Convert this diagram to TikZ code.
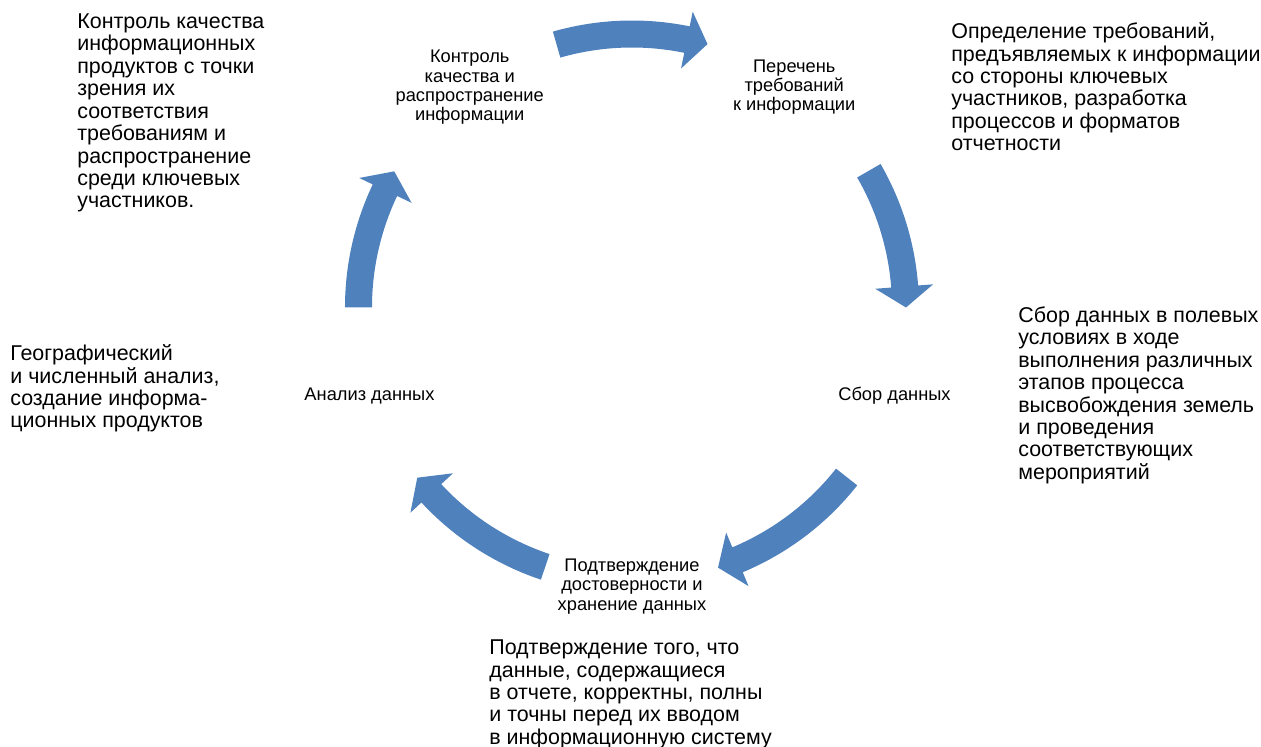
\documentclass[tikz,border=0pt]{standalone}
\usepackage{fontspec}
\setmainfont{Liberation Sans}
\definecolor{cycleblue}{HTML}{4F81BD}

% block arc arrow: start angle, tip angle (clockwise)
\newcommand{\cyclearrow}[2]{%
  \pgfmathsetmacro{\headang}{#2+4.4}
  \fill[cyclearr] (#1:287) arc[start angle=#1, end angle=\headang, radius=287]
    -- (\headang:302) -- (#2:274) -- (\headang:244) -- (\headang:260)
    arc[start angle=\headang, end angle=#1, radius=260] -- cycle;}

\begin{document}
\begin{tikzpicture}[x=0.02cm,y=0.02cm,
  stage/.style={align=center,inner sep=0pt,yshift=-1.7pt,font=\fontsize{10.4pt}{10.9pt}\selectfont},
  desc/.style={align=left,anchor=north west,inner sep=0pt,font=\fontsize{12.2pt}{12.75pt}\selectfont},
  cyclearr/.style={fill=cycleblue}]
\useasboundingbox (-632,-439.5) rectangle (629,307.5);
    % stages
    \node[stage] (ctrl) at (126:276) {Контроль\\качества и\\распространение\\информации};
    \node[stage] (req) at (54:276) {Перечень\\требований\\к информации};
    \node[stage] (collect) at (-18:276) {Сбор данных};
    \node[stage] (valid) at (-90:276) {Подтверждение\\достоверности и\\хранение данных};
    \node[stage] (analysis) at (198:276) {Анализ данных};
    % arrows
    \foreach \a/\b in {106/74, 30/0, -38.3/-71.7, -108.5/-141.6, 180/150.2}
        \cyclearrow{\a}{\b};
    % descriptions
    \node[desc] (ctrltxt) at (-555,294) {Контроль качества\\информационных\\продуктов с точки\\зрения их\\соответствия\\требованиям и\\распространение\\среди ключевых\\участников.};
    \node[desc] (reqtxt) at (319,285) {Определение требований,\\предъявляемых к информации\\со стороны ключевых\\участников, разработка\\процессов и форматов\\отчетности};
    \node[desc] (collecttxt) at (386,1) {Сбор данных в полевых\\условиях в ходе\\выполнения различных\\этапов процесса\\высвобождения земель\\и проведения\\соответствующих\\мероприятий};
    \node[desc] (analysistxt) at (-622,-37) {Географический\\и численный анализ,\\создание информа-\\ционных продуктов};
    \node[desc] (validtxt) at (-143,-332) {Подтверждение того, что\\данные, содержащиеся\\в отчете, корректны, полны\\и точны перед их вводом\\в информационную систему};
\end{tikzpicture}
\end{document}
